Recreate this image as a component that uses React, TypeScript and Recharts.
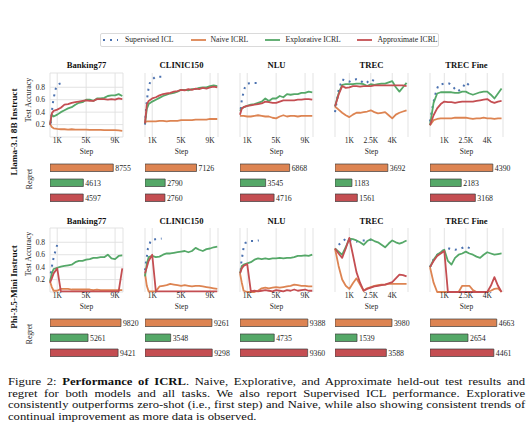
import React from 'react';
import { LineChart, Line, XAxis, YAxis, CartesianGrid, BarChart, Bar, Cell, LabelList } from 'recharts';

const tasks = ['Banking77', 'CLINIC150', 'NLU', 'TREC', 'TREC Fine'];
const modelNames = ['Llama-3.1 8B Instruct', 'Phi-3.5-Mini Instruct'];
const legendLabels = ['Supervised ICL', 'Naive ICRL', 'Explorative ICRL', 'Approximate ICRL'];
const methodNames = ['Naive ICRL', 'Explorative ICRL', 'Approximate ICRL'];

const stepsLong = [0, 250, 500, 1000, 1500, 2000, 2500, 3000, 3500, 4000, 4500, 5000, 5500, 6000, 6500, 7000, 7500, 8000, 8500, 9000, 9500, 10000];
const stepsShort = [0, 250, 500, 750, 1000, 1250, 1500, 1750, 2000, 2250, 2500, 2750, 3000, 3250, 3500, 3750, 4000, 4250, 4500, 4750, 5000];
const taskSteps = [stepsLong, stepsLong, stepsLong, stepsShort, stepsShort];
const taskMaxStep = [10100, 10100, 10100, 5100, 5100];
const ticksLong = [1000, 5000, 9000];
const ticksShort = [1000, 2500, 4000];
const taskTicks = [ticksLong, ticksLong, ticksLong, ticksShort, ticksShort];
const accTicks = [0.2, 0.4, 0.6, 0.8];

// Llama-3.1 8B Instruct
const llamaNaive = [
  [0.21, 0.16, 0.14, 0.13, 0.125, 0.125, 0.12, 0.125, 0.12, 0.12, 0.12, 0.12, 0.115, 0.115, 0.115, 0.115, 0.11, 0.11, 0.11, 0.11, 0.105, 0.1],
  [0.24, 0.25, 0.25, 0.25, 0.25, 0.26, 0.26, 0.25, 0.26, 0.26, 0.26, 0.27, 0.27, 0.27, 0.27, 0.28, 0.28, 0.28, 0.28, 0.29, 0.29, 0.29],
  [0.34, 0.34, 0.34, 0.33, 0.33, 0.34, 0.35, 0.34, 0.33, 0.33, 0.31, 0.3, 0.33, 0.35, 0.33, 0.34, 0.34, 0.33, 0.34, 0.34, 0.34, 0.34],
  [0.49, 0.44, 0.39, 0.35, 0.32, 0.36, 0.39, 0.39, 0.4, 0.41, 0.43, 0.4, 0.38, 0.39, 0.4, 0.35, 0.3, 0.36, 0.39, 0.41, 0.43],
  [0.19, 0.27, 0.29, 0.3, 0.3, 0.3, 0.3, 0.31, 0.31, 0.31, 0.31, 0.3, 0.29, 0.3, 0.3, 0.31, 0.3, 0.3, 0.29, 0.3, 0.3],
];
const llamaExplorative = [
  [0.2, 0.36, 0.33, 0.36, 0.4, 0.43, 0.46, 0.48, 0.52, 0.55, 0.56, 0.6, 0.6, 0.58, 0.62, 0.62, 0.63, 0.66, 0.67, 0.67, 0.69, 0.66],
  [0.22, 0.45, 0.53, 0.57, 0.6, 0.63, 0.66, 0.68, 0.7, 0.71, 0.73, 0.76, 0.76, 0.75, 0.77, 0.77, 0.79, 0.8, 0.8, 0.82, 0.83, 0.82],
  [0.42, 0.46, 0.48, 0.5, 0.52, 0.53, 0.55, 0.57, 0.62, 0.58, 0.62, 0.62, 0.66, 0.64, 0.69, 0.68, 0.69, 0.69, 0.71, 0.71, 0.73, 0.72],
  [0.49, 0.7, 0.84, 0.85, 0.85, 0.85, 0.86, 0.86, 0.85, 0.82, 0.85, 0.84, 0.85, 0.86, 0.86, 0.88, 0.9, 0.8, 0.73, 0.8, 0.87],
  [0.19, 0.55, 0.7, 0.72, 0.72, 0.72, 0.72, 0.71, 0.71, 0.73, 0.73, 0.7, 0.68, 0.7, 0.72, 0.73, 0.73, 0.68, 0.62, 0.7, 0.78],
];
const llamaApproximate = [
  [0.2, 0.38, 0.42, 0.44, 0.47, 0.52, 0.53, 0.55, 0.56, 0.57, 0.58, 0.59, 0.58, 0.58, 0.61, 0.61, 0.61, 0.6, 0.61, 0.6, 0.62, 0.61],
  [0.22, 0.52, 0.58, 0.62, 0.64, 0.67, 0.69, 0.7, 0.71, 0.73, 0.74, 0.76, 0.75, 0.77, 0.76, 0.78, 0.77, 0.79, 0.78, 0.8, 0.81, 0.8],
  [0.36, 0.46, 0.48, 0.5, 0.51, 0.52, 0.53, 0.54, 0.57, 0.56, 0.55, 0.55, 0.57, 0.59, 0.59, 0.59, 0.59, 0.6, 0.6, 0.61, 0.61, 0.6],
  [0.49, 0.68, 0.82, 0.79, 0.8, 0.82, 0.82, 0.81, 0.82, 0.82, 0.82, 0.83, 0.83, 0.83, 0.83, 0.83, 0.83, 0.83, 0.83, 0.83, 0.82],
  [0.19, 0.35, 0.46, 0.53, 0.57, 0.56, 0.56, 0.55, 0.56, 0.57, 0.57, 0.57, 0.57, 0.58, 0.59, 0.6, 0.61, 0.57, 0.55, 0.57, 0.58],
];
const llamaSupervisedSteps = [
  [100, 250, 400, 600, 800, 1000, 1600],
  [0, 100, 200, 300, 400, 550, 750, 1450, 2300],
  [100, 250, 450, 650, 1000, 1650, 2350],
  [0, 250, 500, 750, 1000, 1250, 1500, 1750, 2000, 2250, 2500, 2750],
  [0, 150, 300, 450, 600, 1000, 1350, 1600, 1900, 2100, 2300, 2500, 2800],
];
const llamaSupervised = [
  [0.22, 0.4, 0.55, 0.68, 0.78, 0.84, 0.87],
  [0.2, 0.38, 0.52, 0.62, 0.72, 0.82, 0.9, 0.97, 0.97],
  [0.45, 0.6, 0.7, 0.79, 0.86, 0.87, 0.87],
  [0.4, 0.75, 0.93, 0.9, 0.89, 0.92, 0.93, 0.92, 0.86, 0.88, 0.93, 0.9],
  [0.25, 0.45, 0.62, 0.75, 0.84, 0.86, 0.86, 0.81, 0.73, 0.76, 0.8, 0.88, 0.82],
];
const llamaRegret = [
  [8755, 4613, 4597],
  [7126, 2790, 2760],
  [6868, 3545, 4716],
  [3692, 1183, 1561],
  [4390, 2183, 3168],
];

// Phi-3.5-Mini Instruct
const phiNaive = [
  [0.17, 0.08, 0.02, 0.02, 0.05, 0.05, 0.05, 0.04, 0.04, 0.04, 0.04, 0.04, 0.04, 0.03, 0.04, 0.03, 0.03, 0.03, 0.03, 0.03, 0.03, 0.03],
  [0.3, 0.1, 0.01, 0.01, 0.01, 0.09, 0.1, 0.11, 0.13, 0.12, 0.11, 0.1, 0.11, 0.1, 0.09, 0.1, 0.1, 0.09, 0.08, 0.07, 0.06, 0.05],
  [0.3, 0.15, 0.02, 0.0, 0.0, 0.0, 0.02, 0.06, 0.07, 0.06, 0.07, 0.08, 0.07, 0.08, 0.09, 0.1, 0.12, 0.11, 0.1, 0.1, 0.09, 0.09],
  [0.7, 0.42, 0.2, 0.1, 0.05, 0.14, 0.22, 0.12, 0.02, 0.06, 0.08, 0.1, 0.11, 0.12, 0.12, 0.13, 0.13, 0.13, 0.13, 0.13, 0.13],
  [0.4, 0.15, 0.0, 0.0, 0.0, 0.0, 0.0, 0.0, 0.0, 0.1, 0.1, 0.1, 0.03, 0.0, 0.0, 0.0, 0.0, 0.02, 0.05, 0.06, 0.0],
];
const phiExplorative = [
  [0.17, 0.3, 0.37, 0.39, 0.41, 0.42, 0.43, 0.44, 0.48, 0.5, 0.5, 0.52, 0.53, 0.55, 0.55, 0.56, 0.56, 0.6, 0.54, 0.53, 0.58, 0.59],
  [0.25, 0.45, 0.56, 0.58, 0.56, 0.57, 0.6, 0.62, 0.62, 0.63, 0.64, 0.65, 0.66, 0.64, 0.66, 0.71, 0.68, 0.66, 0.69, 0.7, 0.72, 0.73],
  [0.3, 0.42, 0.44, 0.46, 0.48, 0.52, 0.54, 0.53, 0.54, 0.53, 0.54, 0.54, 0.55, 0.54, 0.55, 0.55, 0.56, 0.58, 0.58, 0.59, 0.58, 0.6],
  [0.7, 0.65, 0.6, 0.72, 0.86, 0.85, 0.83, 0.8, 0.76, 0.82, 0.85, 0.82, 0.8, 0.76, 0.72, 0.78, 0.83, 0.8, 0.78, 0.8, 0.83],
  [0.4, 0.52, 0.6, 0.64, 0.68, 0.5, 0.44, 0.55, 0.6, 0.62, 0.65, 0.62, 0.6, 0.57, 0.55, 0.6, 0.64, 0.62, 0.6, 0.61, 0.62],
];
const phiApproximate = [
  [0.15, 0.22, 0.3, 0.38, 0.01, 0.01, 0.01, 0.01, 0.01, 0.01, 0.01, 0.01, 0.01, 0.01, 0.01, 0.01, 0.01, 0.01, 0.01, 0.01, 0.01, 0.38],
  [0.3, 0.4, 0.5, 0.6, 0.01, 0.01, 0.01, 0.01, 0.01, 0.01, 0.01, 0.01, 0.01, 0.01, 0.01, 0.01, 0.01, 0.01, 0.01, 0.01, 0.01, 0.01],
  [0.3, 0.38, 0.42, 0.45, 0.01, 0.02, 0.01, 0.02, 0.03, 0.02, 0.01, 0.03, 0.02, 0.01, 0.03, 0.02, 0.04, 0.02, 0.03, 0.04, 0.02, 0.02],
  [0.7, 0.62, 0.55, 0.7, 0.87, 0.6, 0.32, 0.15, 0.02, 0.05, 0.07, 0.09, 0.1, 0.11, 0.12, 0.14, 0.16, 0.22, 0.28, 0.27, 0.25],
  [0.4, 0.5, 0.58, 0.62, 0.66, 0.0, 0.0, 0.0, 0.0, 0.0, 0.0, 0.0, 0.0, 0.0, 0.0, 0.0, 0.0, 0.1, 0.24, 0.1, 0.0],
];
const phiSupervisedSteps = [
  [100, 250, 400, 600, 800, 1000, 1600],
  [0, 150, 300, 400, 600, 800, 1450, 2300],
  [100, 200, 350, 500, 750, 1200, 1900, 2600],
  [250, 500, 750, 1000, 1250, 1500, 1750, 2000, 2250, 2500, 2750],
  [0, 300, 600, 1000, 1350, 1750, 2150, 2500, 2850],
];
const phiSupervised = [
  [0.3, 0.4, 0.5, 0.6, 0.68, 0.76, 0.77],
  [0.35, 0.5, 0.6, 0.7, 0.76, 0.83, 0.85, 0.86],
  [0.35, 0.5, 0.6, 0.72, 0.79, 0.82, 0.82, 0.83],
  [0.76, 0.8, 0.86, 0.84, 0.82, 0.81, 0.83, 0.83, 0.83, 0.84, 0.85],
  [0.4, 0.55, 0.62, 0.68, 0.7, 0.68, 0.7, 0.73, 0.7],
];
const phiRegret = [
  [9820, 5261, 9421],
  [9261, 3548, 9298],
  [9388, 4735, 9360],
  [3980, 1539, 3588],
  [4663, 2654, 4461],
];

const FONT = '"Liberation Serif", "Times New Roman", serif';
const C_ICL = '#4c72b0';
const C_NAIVE = '#dd8452';
const C_EXPL = '#55a868';
const C_APPROX = '#c44e52';
const methodColors = [C_NAIVE, C_EXPL, C_APPROX];
const GRID = '#e0e0e0';
const TEXT = '#262626';

const Y_MAX = 1.03;
const PLOT_W = 73;
const PLOT_H = 64;
const Y_AXIS_W = 24;
const panelLeft = (i: number) => 50 + 95 * i;

const rows = [
  {
    name: modelNames[0], naive: llamaNaive, expl: llamaExplorative, approx: llamaApproximate,
    iclSteps: llamaSupervisedSteps, icl: llamaSupervised, regret: llamaRegret,
    lineTop: 71, titleY: 65, stepY: 151, barTop: 160, nameY: 132, accY: 100, regretY: 179,
  },
  {
    name: modelNames[1], naive: phiNaive, expl: phiExplorative, approx: phiApproximate,
    iclSteps: phiSupervisedSteps, icl: phiSupervised, regret: phiRegret,
    lineTop: 226, titleY: 221, stepY: 306, barTop: 314.5, nameY: 287, accY: 254, regretY: 334,
  },
];

const pts = (xs: number[], ys: number[]) => xs.map((x, i) => ({ x, y: ys[i] }));
const fmtK = (v: number) => `${v / 1000}K`;
const tickStyle = { fontSize: 7.5, fill: TEXT, fontFamily: FONT };

function LinePanel({ row, t }: { row: typeof rows[number]; t: number }) {
  const steps = taskSteps[t];
  const xMax = taskMaxStep[t];
  const lineProps = { type: 'linear' as const, dataKey: 'y', dot: false, strokeWidth: 1.8, strokeLinejoin: 'round' as const, isAnimationActive: false };
  return (
    <div style={{ position: 'absolute', left: panelLeft(t) - Y_AXIS_W, top: row.lineTop }}>
      <LineChart width={Y_AXIS_W + PLOT_W + 3} height={2 + PLOT_H + 12} margin={{ top: 2, right: 3, left: 0, bottom: 0 }}>
        <CartesianGrid
          stroke={GRID}
          strokeWidth={0.9}
          horizontalValues={[0, ...accTicks, Y_MAX]}
          verticalValues={[0, ...taskTicks[t], xMax]}
        />
        <XAxis
          type="number"
          dataKey="x"
          domain={[0, xMax]}
          ticks={taskTicks[t]}
          interval={0}
          tickFormatter={fmtK}
          axisLine={false}
          tickLine={false}
          tickSize={0}
          tickMargin={1}
          height={12}
          tick={tickStyle}
        />
        <YAxis
          type="number"
          domain={[0, Y_MAX]}
          ticks={accTicks}
          interval={0}
          width={Y_AXIS_W}
          tick={t === 0 ? tickStyle : false}
          tickFormatter={(v: number) => v.toFixed(1)}
          axisLine={false}
          tickLine={false}
          tickSize={0}
          tickMargin={5}
        />
        <Line {...lineProps} data={pts(row.iclSteps[t], row.icl[t])} stroke={C_ICL} strokeWidth={2} strokeDasharray="2 4.8" />
        <Line {...lineProps} data={pts(steps, row.naive[t])} stroke={C_NAIVE} />
        <Line {...lineProps} data={pts(steps, row.expl[t])} stroke={C_EXPL} />
        <Line {...lineProps} data={pts(steps, row.approx[t])} stroke={C_APPROX} />
      </LineChart>
    </div>
  );
}

function RegretPanel({ row, t }: { row: typeof rows[number]; t: number }) {
  const data = methodNames.map((name, i) => ({ name, v: row.regret[t][i] }));
  return (
    <div style={{ position: 'absolute', left: panelLeft(t), top: row.barTop }}>
      <BarChart layout="vertical" width={PLOT_W + 30} height={45} data={data} margin={{ top: 0, right: 30, left: 0, bottom: 0 }}>
        <XAxis type="number" domain={[0, taskMaxStep[t]]} hide />
        <YAxis type="category" dataKey="name" width={0} tick={false} tickLine={false} axisLine={{ stroke: GRID }} />
        <Bar dataKey="v" barSize={7.5} stroke="#3c3c3c" strokeWidth={0.7} isAnimationActive={false}>
          {data.map((d, i) => (
            <Cell key={d.name} fill={methodColors[i]} />
          ))}
          <LabelList dataKey="v" position="right" offset={2} fill={TEXT} stroke="none" fontSize={7.8} fontFamily={FONT} />
        </Bar>
      </BarChart>
    </div>
  );
}

const abs = (left: number, top: number, extra: React.CSSProperties = {}): React.CSSProperties => ({
  position: 'absolute', left, top, whiteSpace: 'nowrap', ...extra,
});

function Legend() {
  const items = [
    { label: legendLabels[0], color: C_ICL, x: 102, tx: 125, dotted: true },
    { label: legendLabels[1], color: C_NAIVE, x: 191, tx: 210.5, dotted: false },
    { label: legendLabels[2], color: C_EXPL, x: 265, tx: 285.5, dotted: false },
    { label: legendLabels[3], color: C_APPROX, x: 357, tx: 377.5, dotted: false },
  ];
  return (
    <>
      <div style={abs(100, 33, { width: 339, height: 14, border: '1px solid #dadada', borderRadius: 2, boxSizing: 'border-box' })} />
      {items.map((it) => (
        <React.Fragment key={it.label}>
          <svg style={abs(it.x, 37)} width={16} height={6}>
            {it.dotted ? (
              <line x1={1} y1={3} x2={16} y2={3} stroke={it.color} strokeWidth={2} strokeDasharray="2 5" />
            ) : (
              <line x1={0} y1={3} x2={15} y2={3} stroke={it.color} strokeWidth={1.8} />
            )}
          </svg>
          <div style={abs(it.tx, 35, { fontSize: 7.7, lineHeight: '10px', color: TEXT })}>{it.label}</div>
        </React.Fragment>
      ))}
    </>
  );
}

const centered = (x: number, y: number, extra: React.CSSProperties = {}): React.CSSProperties => ({
  position: 'absolute', left: x, top: y, transform: 'translate(-50%, -50%)', whiteSpace: 'nowrap', ...extra,
});
const rotated = (x: number, y: number, extra: React.CSSProperties = {}): React.CSSProperties => ({
  position: 'absolute', left: x, top: y, transform: 'translate(-50%, -50%) rotate(-90deg)', whiteSpace: 'nowrap', ...extra,
});

const captionLine: React.CSSProperties = { textAlign: 'justify', textAlignLast: 'justify', whiteSpace: 'nowrap' };

export default function App() {
  return (
    <div style={{ position: 'absolute', left: 0, top: 0, width: 530, height: 442, background: '#fff', overflow: 'hidden', fontFamily: FONT, color: TEXT }}>
      <Legend />
      {rows.map((row) => (
        <React.Fragment key={row.name}>
          <div style={rotated(13.5, row.nameY, { fontSize: 9.2, fontWeight: 'bold', color: '#111' })}>{row.name}</div>
          <div style={rotated(28, row.accY, { fontSize: 7.8 })}>Test Accuracy</div>
          <div style={rotated(28.5, row.regretY, { fontSize: 7.6 })}>Regret</div>
          {tasks.map((task, t) => (
            <React.Fragment key={task}>
              <div style={centered(panelLeft(t) + PLOT_W / 2, row.titleY, { fontSize: 8.6, fontWeight: 'bold', color: '#111' })}>{task}</div>
              <LinePanel row={row} t={t} />
              <div style={centered(panelLeft(t) + PLOT_W / 2, row.stepY, { fontSize: 7.5 })}>Step</div>
              <RegretPanel row={row} t={t} />
            </React.Fragment>
          ))}
        </React.Fragment>
      ))}
      <div style={{ position: 'absolute', left: 7.5, top: 376, width: 431, fontSize: 10.55, lineHeight: '11.7px', color: '#111', transform: 'scaleX(1.2)', transformOrigin: 'left top' }}>
        <div style={captionLine}>
          Figure 2: <b>Performance of ICRL</b>. Naive, Explorative, and Approximate held-out test results and
        </div>
        <div style={captionLine}>
          regret for both models and all tasks. We also report Supervised ICL performance. Explorative
        </div>
        <div style={captionLine}>
          consistently outperforms zero-shot (i.e., first step) and Naive, while also showing consistent trends of
        </div>
        <div style={{ whiteSpace: 'nowrap' }}>continual improvement as more data is observed.</div>
      </div>
    </div>
  );
}
